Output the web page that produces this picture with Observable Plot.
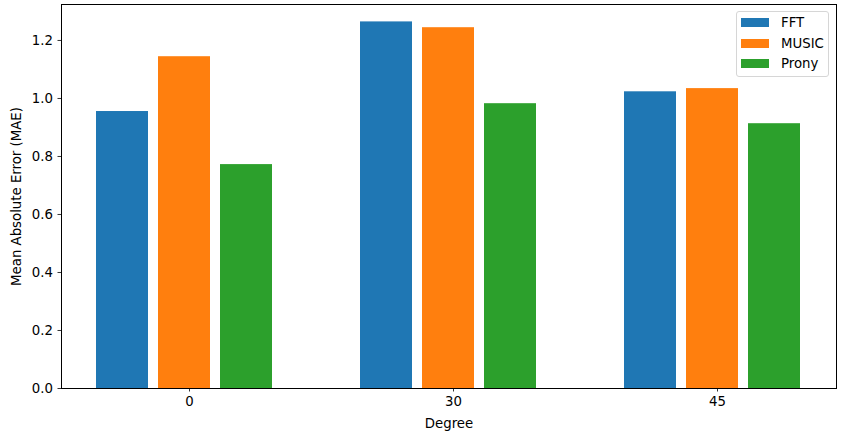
<!DOCTYPE html>
<html><head><meta charset="utf-8">
<script src="https://cdn.jsdelivr.net/npm/d3@7"></script>
<script src="https://cdn.jsdelivr.net/npm/@observablehq/plot@0.6"></script>
<style>
body{margin:0;background:#fff;font-family:"DejaVu Sans",sans-serif;}
#wrap{position:relative;width:846px;height:441px;}
.legend{position:absolute;left:736px;top:11px;width:93px;height:66px;border:1px solid #d6d6d6;border-radius:3px;background:rgba(255,255,255,0.8);box-sizing:border-box;font-size:13.3px;color:#000;}
.row{position:absolute;left:4px;height:13px;display:flex;align-items:center;}
.sw{width:28px;height:9px;}
.lab{margin-left:12px;line-height:13px;white-space:nowrap;}
</style></head><body><div id="wrap"></div>
<script>
const degrees = ["0", "30", "45"];
const methods = ["FFT", "MUSIC", "Prony"];
const fftValues = [0.955, 1.264, 1.023];
const musicValues = [1.144, 1.244, 1.034];
const pronyValues = [0.772, 0.982, 0.913];
const seriesValues = [fftValues, musicValues, pronyValues];
const colors = ["#1f77b4", "#ff7f0e", "#2ca02c"];
const yTicks = [0, 0.2, 0.4, 0.6, 0.8, 1.0, 1.2];

const W = 846, H = 441, ML = 61, MR = 10, MT = 4, MB = 53;
const barPitch = 62;

const barMarks = methods.map((m, i) =>
  Plot.barY(degrees, {
    x: d => d,
    y: (d, j) => seriesValues[i][j],
    fill: colors[i],
    dx: (i - 1) * barPitch
  })
);

const plot = Plot.plot({
  width: W, height: H,
  marginLeft: ML, marginRight: MR, marginTop: MT, marginBottom: MB,
  style: {fontFamily: "DejaVu Sans", fontSize: "13.3px", color: "#000", background: "#fff", overflow: "visible"},
  x: {domain: degrees, paddingInner: 0.803, paddingOuter: 0.369},
  y: {domain: [0, 1.324]},
  marks: [
    ...barMarks,
    Plot.axisY({ticks: yTicks, tickFormat: d => d.toFixed(1), tickSize: 3.5, tickPadding: 5, strokeWidth: 0.8,
      label: "Mean Absolute Error (MAE)", labelAnchor: "center", labelArrow: "none", labelOffset: 50}),
    Plot.axisX({tickSize: 3.5, tickPadding: 5, strokeWidth: 0.8, dx: 5,
      label: "Degree", labelAnchor: "center", labelArrow: "none", labelOffset: 39}),
    Plot.frame({stroke: "#000", strokeWidth: 1})
  ]
});
const wrap = document.getElementById("wrap");
wrap.appendChild(plot);

const legend = document.createElement("div");
legend.className = "legend";
methods.forEach((m, i) => {
  const row = document.createElement("div");
  row.className = "row";
  row.style.top = (4 + i * 20.7) + "px";
  const sw = document.createElement("div");
  sw.className = "sw";
  sw.style.background = colors[i];
  const lab = document.createElement("span");
  lab.className = "lab";
  lab.textContent = m;
  row.appendChild(sw); row.appendChild(lab);
  legend.appendChild(row);
});
wrap.appendChild(legend);
</script></body></html>
